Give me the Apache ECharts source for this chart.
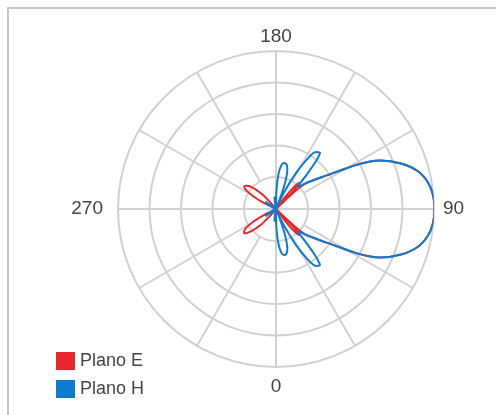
<!DOCTYPE html>
<html>
<head>
<meta charset="utf-8">
<script src="https://cdn.jsdelivr.net/npm/echarts@6/dist/echarts.min.js"></script>
<style>
  html, body { margin: 0; padding: 0; background: #fff; }
  #chart { width: 496px; height: 415px; }
</style>
</head>
<body>
<div id="chart"></div>
<script>
// angle tick labels and ring ticks
var angleLabels = [0, 90, 180, 270];
var ringValues = [10, 20, 30, 40, 50];

// Plano E (red): [angle, radius]
var planoE = [
  [0, 0.5], [20, 0.5], [36, 0], [37.5, 5], [39.5, 9.5], [41.5, 11.2],
  [43, 10.5], [44.5, 6], [45.5, 0], [47, 8], [49, 12.3], [52, 14.5],
  [55, 17.5], [57, 20], [59, 23.5], [61, 28.5], [63, 33], [65, 36.4],
  [70, 42.1], [75, 46.4], [80, 48.8], [85, 49.9], [90, 50.2], [95, 49.9],
  [100, 48.8], [105, 46.4], [110, 42.1], [115, 36.4], [117, 33], [119, 28.5],
  [121, 23.5], [123, 20], [125, 17.5], [128, 14.5], [131, 12.3], [133, 8],
  [134.5, 0], [135.5, 6], [137, 10.5], [138.5, 11.2], [140.5, 9.5],
  [142.5, 5], [144, 0], [160, 0.5], [200, 0.5], [219, 0], [221, 3], [224, 7],
  [228, 10.5], [232, 12], [235, 12.3], [238, 11], [241, 8], [244, 4],
  [247, 0.5], [270, 0.5], [293, 0.5], [296, 4], [299, 8], [302, 11],
  [305, 12.3], [308, 12.6], [312, 10.5], [316, 7], [319, 3], [321, 0],
  [340, 0.5], [360, 0.5]
];

// Plano H (blue)
var planoH = [
  [0, 1], [1.5, 6], [4, 11], [7, 14], [10, 14.8], [13, 14.6], [16, 13],
  [19, 9], [21, 4], [23, 0], [24, 1.5], [26, 6], [29, 13], [32, 18.5],
  [35, 22], [38, 22.6], [40, 19.5], [42, 14], [43.5, 10.5], [44.5, 9.8],
  [46, 10.5], [49, 12.3], [52, 14.5], [55, 17.5], [57, 20], [59, 23.5],
  [61, 28.5], [63, 33], [65, 36.4], [70, 42.1], [75, 46.4], [80, 48.8],
  [85, 49.9], [90, 50.2], [95, 49.9], [100, 48.8], [105, 46.4], [110, 42.1],
  [115, 36.4], [117, 33], [119, 28.5], [121, 23.5], [123, 20], [125, 17.5],
  [128, 14.5], [131, 12.3], [134, 10.5], [135.5, 9.8], [136.5, 10.5],
  [138, 14], [140, 19.5], [142, 22.6], [145, 22], [148, 18.5], [151, 13],
  [154, 6], [156, 1.5], [157, 0], [159, 4], [161, 9], [164, 13], [167, 14.6],
  [170, 14.8], [173, 14], [176, 11], [178.5, 6], [180.5, 1], [184, 3],
  [187, 4], [190, 2], [200, 0.5], [230, 1], [236, 4], [240, 3.5], [245, 1],
  [270, 0.5], [295, 1], [300, 3.5], [304, 4], [310, 1], [345, 0.5], [350, 2],
  [353, 4], [356, 3], [360, 1]
];

var gridColor = "#d1d1d1";
var labelFont = { fontSize: 19, color: "#444", fontFamily: "Liberation Sans" };
var chart = echarts.init(document.getElementById("chart"), null, { renderer: "canvas" });

function toPolar(list) {
  return list.map(function (p) { return [p[1], p[0]]; });
}

var option = {
  animation: false,
  backgroundColor: "#fff",
  graphic: [
    {
      type: "rect",
      shape: { x: 8, y: 8, width: 520, height: 440 },
      style: { fill: "none", stroke: "#c6c6c6", lineWidth: 2 },
      silent: true
    }
  ],
  legend: {
    orient: "vertical",
    left: 51,
    top: 347,
    itemWidth: 19,
    itemHeight: 18,
    itemGap: 10,
    icon: "rect",
    textStyle: { fontSize: 18, color: "#444", fontFamily: "Liberation Sans" },
    data: ["Plano E", "Plano H"]
  },
  polar: [
    { center: [276, 209], radius: [32, 158] },
    { center: [276, 209], radius: [0, 158] }
  ],
  angleAxis: [
    {
      polarIndex: 0,
      type: "value",
      min: 0,
      max: 360,
      interval: 30,
      startAngle: 270,
      clockwise: false,
      axisLine: { show: false },
      axisTick: { show: false },
      axisLabel: { show: false },
      splitLine: { show: true, lineStyle: { color: gridColor, width: 2 } }
    },
    {
      polarIndex: 1,
      type: "value",
      min: 0,
      max: 360,
      interval: 90,
      startAngle: 270,
      clockwise: false,
      axisLine: { show: false },
      axisTick: { show: false },
      axisLabel: {
        show: true,
        margin: 5,
        fontSize: 19,
        color: "#444",
        fontFamily: "Liberation Sans",
        formatter: function (v) {
          if (angleLabels.indexOf(v) < 0) return "";
          return "{a" + v + "|" + v + "}";
        },
        rich: {
          a0: Object.assign({ padding: [5, 0, 0, 0] }, labelFont),
          a90: Object.assign({ padding: [0, 0, 0, 4] }, labelFont),
          a180: Object.assign({ padding: [0, 0, 0, 0] }, labelFont),
          a270: Object.assign({ padding: [0, 10, 0, 0] }, labelFont)
        }
      },
      splitLine: { show: true, lineStyle: { color: gridColor, width: 2 } }
    }
  ],
  radiusAxis: [
    {
      polarIndex: 0,
      min: ringValues[0],
      max: ringValues[ringValues.length - 1],
      interval: 10,
      axisLine: { show: false },
      axisTick: { show: false },
      axisLabel: { show: false },
      splitLine: { show: true, lineStyle: { color: gridColor, width: 2 } }
    },
    {
      polarIndex: 1,
      min: 0,
      max: 50,
      axisLine: { show: false },
      axisTick: { show: false },
      axisLabel: { show: false },
      splitLine: { show: false }
    }
  ],
  series: [
    {
      name: "Plano E",
      type: "line",
      coordinateSystem: "polar",
      polarIndex: 1,
      showSymbol: false,
      smooth: 0.3,
      itemStyle: { color: "#e8262b" },
      lineStyle: { color: "#e8262b", width: 2 },
      data: toPolar(planoE)
    },
    {
      name: "Plano H",
      type: "line",
      coordinateSystem: "polar",
      polarIndex: 1,
      showSymbol: false,
      smooth: 0.3,
      itemStyle: { color: "#0d7bd0" },
      lineStyle: { color: "#0d7bd0", width: 2 },
      data: toPolar(planoH)
    }
  ]
};
chart.setOption(option);
</script>
</body>
</html>
